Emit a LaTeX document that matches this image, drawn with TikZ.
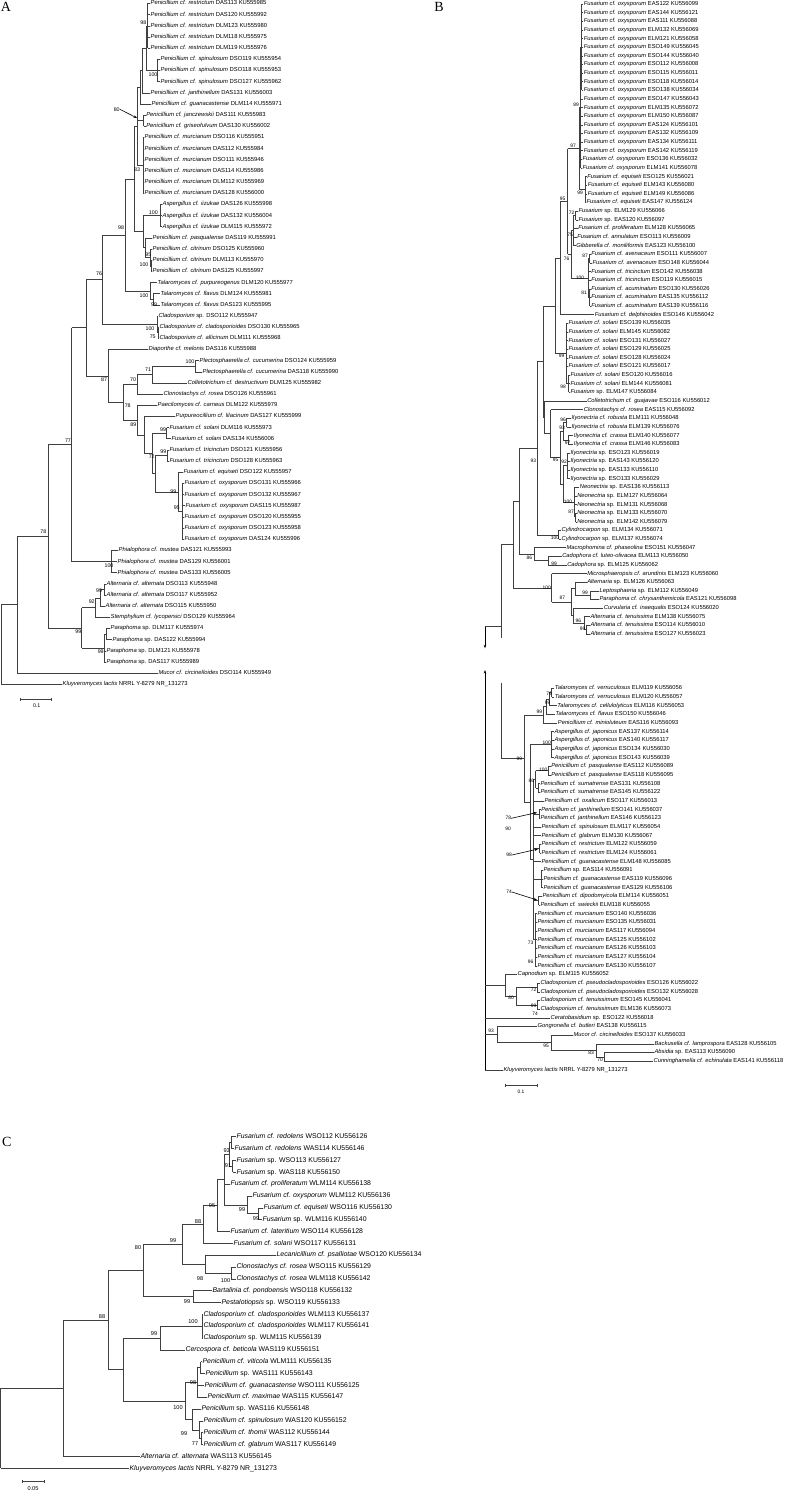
\documentclass[tikz,border=0pt]{standalone}
\usepackage{fontspec}
\setmainfont{Liberation Sans}
\newfontfamily\serifL{Liberation Serif}
\usetikzlibrary{calc,arrows.meta}
\tikzset{
 br/.style={draw=black!75, line width=0.5pt},
 la/.style={anchor=west, inner sep=0.4pt, font=\fontsize{5.85}{6}\selectfont, text height=4pt, text depth=1pt},
 lb/.style={anchor=west, inner sep=0.4pt, font=\fontsize{5.8}{6}\selectfont, text height=4pt, text depth=1pt},
 lc/.style={anchor=west, inner sep=0.4pt, font=\fontsize{6.9}{7}\selectfont, text height=4.8pt, text depth=1.2pt},
 bsa/.style={inner sep=0pt, font=\fontsize{5.3}{5.5}\selectfont},
 bsb/.style={inner sep=0pt, font=\fontsize{4.9}{5}\selectfont},
 bsc/.style={inner sep=0pt, font=\fontsize{5.6}{6}\selectfont},
 letter/.style={inner sep=0pt, font=\serifL\fontsize{14}{14}\selectfont},
 arr/.style={draw=black, line width=0.6pt, -{Stealth[length=3.5pt,width=2.6pt]}},
}
\newcommand\LA[4]{\node[la] (a#1) at (#2,{-3.5-11.16*#1}) {\textit{#3} #4};}
\newcommand\LB[4]{\node[lb] (b#1) at (#2,{-4-8.63*#1}) {\textit{#3} #4};}
\newcommand\LL[4]{\node[lb] (b#1) at (#2,{-688.3-8.67*(#1-74)}) {\textit{#3} #4};}
\newcommand\LC[4]{\node[lc] (c#1) at (#2,{-1136.7-11.84*#1}) {\textit{#3} #4};}
\newcommand\nd[5]{%
 \path let \p1=(#3), \p2=(#4) in coordinate (#1) at (#2,{0.5*(\y1+\y2)});
 \draw[br] (#1|-#3) -- (#1|-#4);
 \foreach \ch in {#5} {\draw[br] (#1|-\ch) -- (\ch);}
}
\newcommand\bl[5]{\node[#1] (#2) at (#3,-#4) {#5};}
\begin{document}
\begin{tikzpicture}[x=1pt,y=1pt]
\useasboundingbox (0,0) rectangle (785,-1493);
\fill[white] (0,0) rectangle (785,-1493);
% ================= panel letters
\node[letter] (pA) at (6,-6.7) {A};
\node[letter] (pB) at (439,-7.3) {B};
\node[letter] (pC) at (6.7,-1141.7) {C};
% ================= PANEL A leaves
\LA{0}{150}{Penicillium cf. restrictum}{DAS113 KU555985}
\LA{1}{150}{Penicillium cf. restrictum}{DAS120 KU555992}
\LA{2}{150}{Penicillium cf. restrictum}{DLM123 KU555980}
\LA{3}{150}{Penicillium cf. restrictum}{DLM118 KU555975}
\LA{4}{150}{Penicillium cf. restrictum}{DLM119 KU555976}
\LA{5}{160}{Penicillium cf. spinulosum}{DSO119 KU555954}
\LA{6}{160}{Penicillium cf. spinulosum}{DSO118 KU555953}
\LA{7}{160}{Penicillium cf. spinulosum}{DSO127 KU555962}
\LA{8}{150}{Penicillium cf. janthinellum}{DAS131 KU556003}
\LA{9}{151}{Penicillium cf. guanacastense}{DLM114 KU555971}
\LA{10}{145.7}{Penicillium cf. janczewskii}{DAS111 KU555983}
\LA{11}{145.7}{Penicillium cf. griseofulvum}{DAS130 KU556002}
\LA{12}{144}{Penicillium cf. murcianum}{DSO116 KU555951}
\LA{13}{144}{Penicillium cf. murcianum}{DAS112 KU555984}
\LA{14}{144}{Penicillium cf. murcianum}{DSO111 KU555946}
\LA{15}{144}{Penicillium cf. murcianum}{DAS114 KU555986}
\LA{16}{144}{Penicillium cf. murcianum}{DLM112 KU555969}
\LA{17}{144}{Penicillium cf. murcianum}{DAS128 KU556000}
\LA{18}{162}{Aspergillus cf. iizukae}{DAS126 KU555998}
\LA{19}{162}{Aspergillus cf. iizukae}{DAS132 KU556004}
\LA{20}{162}{Aspergillus cf. iizukae}{DLM115 KU555972}
\LA{21}{152}{Penicillium cf. pasqualense}{DAS119 KU555991}
\LA{22}{152}{Penicillium cf. citrinum}{DSO125 KU555960}
\LA{23}{152}{Penicillium cf. citrinum}{DLM113 KU555970}
\LA{24}{152}{Penicillium cf. citrinum}{DAS125 KU555997}
\LA{25}{157}{Talaromyces cf. purpureogenus}{DLM120 KU555977}
\LA{26}{160}{Talaromyces cf. flavus}{DLM124 KU555981}
\LA{27}{160}{Talaromyces cf. flavus}{DAS123 KU555995}
\LA{28}{158}{Cladosporium}{sp. DSO112 KU555947}
\LA{29}{159}{Cladosporium cf. cladosporioides}{DSO130 KU555965}
\LA{30}{159}{Cladosporium cf. allicinum}{DLM111 KU555968}
\LA{31}{148}{Diaporthe cf. melonis}{DAS116 KU555988}
\LA{32}{199}{Plectosphaerella cf. cucumerina}{DSO124 KU555959}
\LA{33}{202}{Plectosphaerella cf. cucumerina}{DAS118 KU555990}
\LA{34}{187}{Colletotrichum cf. destructivum}{DLM125 KU555982}
\LA{35}{163}{Clonostachys cf. rosea}{DSO126 KU555961}
\LA{36}{157}{Paecilomyces cf. carneus}{DLM122 KU555979}
\LA{37}{175}{Purpureocillium cf. lilacinum}{DAS127 KU555999}
\LA{38}{169}{Fusarium cf. solani}{DLM116 KU555973}
\LA{39}{171}{Fusarium cf. solani}{DAS134 KU556006}
\LA{40}{169}{Fusarium cf. tricinctum}{DSO121 KU555956}
\LA{41}{169}{Fusarium cf. tricinctum}{DSO128 KU555963}
\LA{42}{183}{Fusarium cf. equiseti}{DSO122 KU555957}
\LA{43}{184}{Fusarium cf. oxysporum}{DSO131 KU555966}
\LA{44}{184}{Fusarium cf. oxysporum}{DSO132 KU555967}
\LA{45}{185}{Fusarium cf. oxysporum}{DAS115 KU555987}
\LA{46}{184}{Fusarium cf. oxysporum}{DSO120 KU555955}
\LA{47}{184}{Fusarium cf. oxysporum}{DSO123 KU555958}
\LA{48}{184}{Fusarium cf. oxysporum}{DAS124 KU555996}
\LA{49}{118}{Phialophora cf. mustea}{DAS121 KU555993}
\LA{50}{117}{Phialophora cf. mustea}{DAS129 KU556001}
\LA{51}{117}{Phialophora cf. mustea}{DAS133 KU556005}
\LA{52}{106}{Alternaria cf. alternata}{DSO113 KU555948}
\LA{53}{106}{Alternaria cf. alternata}{DSO117 KU555952}
\LA{54}{105}{Alternaria cf. alternata}{DSO115 KU555950}
\LA{55}{110}{Stemphylium cf. lycopersici}{DSO129 KU555964}
\LA{56}{110}{Paraphoma}{sp. DLM117 KU555974}
\LA{57}{112}{Paraphoma}{sp. DAS122 KU555994}
\LA{58}{106}{Paraphoma}{sp. DLM121 KU555978}
\LA{59}{106}{Paraphoma}{sp. DAS117 KU555989}
\LA{60}{158}{Mucor cf. circinelloides}{DSO114 KU555949}
\LA{61}{62}{Kluyveromyces lactis}{NRRL Y-8279 NR\_131273}
% ---- PANEL A tree
\nd{nRestr}{147.7}{a0}{a4}{a0,a1,a2,a3,a4}
\nd{nSpin}{157.7}{a5}{a7}{a5,a6,a7}
\nd{nRS}{146}{nRestr}{nSpin}{nRestr,nSpin}
\nd{nP1}{142}{nRS}{a8}{nRS,a8}
\nd{nP2}{140}{nP1}{a9}{nP1,a9}
\nd{nJG}{143.5}{a10}{a11}{a10,a11}
\nd{nMur}{143}{a12}{a17}{a12,a13,a14,a15,a16,a17}
\nd{nP3}{137}{nP2}{nMur}{nP2,nJG,nMur}
\nd{nAsp}{160.7}{a18}{a20}{a18,a19,a20}
\nd{nCit1}{151}{a23}{a24}{a23,a24}
\nd{nCit}{150}{a22}{nCit1}{a22,nCit1}
\nd{nPC}{145}{a21}{nCit}{a21,nCit}
\nd{nAPC}{143.3}{nAsp}{nPC}{nAsp,nPC}
\nd{nPen}{134}{nP3}{nAPC}{nP3,nAPC}
\nd{nFlav}{153}{a26}{a27}{a26,a27}
\nd{nTal}{150}{a25}{nFlav}{a25,nFlav}
\nd{nAn98}{125}{nPen}{nTal}{nPen,nTal}
\nd{nCl2}{158.3}{a29}{a30}{a29,a30}
\nd{nClado}{157}{a28}{nCl2}{a28,nCl2}
\nd{nAn76}{102}{nAn98}{nClado}{nAn98,nClado}
\nd{nPlec}{195}{a32}{a33}{a32,a33}
\nd{nAn71}{152}{nPlec}{a34}{nPlec,a34}
\nd{nAn70}{137}{nAn71}{a35}{nAn71,a35}
\nd{nFsol}{166.7}{a38}{a39}{a38,a39}
\nd{nFtri}{167}{a40}{a41}{a40,a41}
\nd{nFox}{182}{a43}{a48}{a43,a44,a45,a46,a47,a48}
\nd{nEqOx}{178}{a42}{nFox}{a42,nFox}
\nd{nTF}{155}{nFtri}{nEqOx}{nFtri,nEqOx}
\nd{nAn72}{152}{nFsol}{nTF}{nFsol,nTF}
\nd{nAn89}{144}{a37}{nAn72}{a37,nAn72}
\nd{nPae}{137}{a36}{nAn89}{a36,nAn89}
\nd{nAn78}{123.3}{nAn70}{nPae}{nAn70,nPae}
\nd{nAn87}{108}{a31}{nAn78}{a31,nAn78}
\nd{nAn86}{86}{nAn76}{nAn87}{nAn76,nAn87}
\nd{nPhia}{111.7}{a49}{a51}{a49,a50,a51}
\nd{nAn77}{71.7}{nAn86}{nPhia}{nAn86,nPhia}
\nd{nAlt1}{104}{a52}{a53}{a52,a53}
\nd{nAn92}{100}{nAlt1}{a54}{nAlt1,a54}
\nd{nAlt}{95}{nAn92}{a55}{nAn92,a55}
\nd{nPp}{106.7}{a56}{a57}{a56,a57}
\nd{nPara}{104.3}{nPp}{a59}{nPp,a58,a59}
\nd{nDothA}{81.7}{nAlt}{nPara}{nAlt,nPara}
\nd{nAn77b}{48.3}{nAn77}{nDothA}{nAn77,nDothA}
\nd{nMucA}{17.3}{nAn77b}{a60}{nAn77b,a60}
\nd{rootA}{1}{nMucA}{a61}{nMucA,a61}
% ---- PANEL A bootstrap labels
\bl{bsa}{la1}{143.3}{22.7}{98}
\bl{bsa}{la2}{153}{75}{100}
\bl{bsa}{la3}{116.7}{109.3}{80}
\coordinate (arA) at (137,-118);
\draw[arr] (la3.east) -- (arA);
\bl{bsa}{la4}{137}{170}{83}
\bl{bsa}{la5}{153.3}{212.3}{100}
\bl{bsa}{la6}{121}{228}{98}
\bl{bsa}{la7}{148.3}{254.3}{95}
\bl{bsa}{la8}{144}{265}{100}
\bl{bsa}{la9}{99}{274}{76}
\bl{bsa}{la10}{144}{296}{100}
\bl{bsa}{la11}{154}{304.3}{99}
\bl{bsa}{la12}{150}{329}{100}
\bl{bsa}{la13}{152.7}{337}{75}
\bl{bsa}{la14}{104}{380}{87}
\bl{bsa}{la15}{133}{380}{70}
\bl{bsa}{la16}{148}{370}{71}
\bl{bsa}{la17}{190}{362}{100}
\bl{bsa}{la18}{127.7}{406}{78}
\bl{bsa}{la19}{133.3}{424.3}{89}
\bl{bsa}{la20}{163}{429.3}{99}
\bl{bsa}{la21}{163.3}{451.7}{99}
\bl{bsa}{la22}{151.7}{456.7}{72}
\bl{bsa}{la23}{173.3}{491.7}{99}
\bl{bsa}{la24}{176.7}{507.3}{95}
\bl{bsa}{la25}{68}{441}{77}
\bl{bsa}{la26}{43.3}{531.7}{78}
\bl{bsa}{la27}{109}{565.7}{100}
\bl{bsa}{la28}{99}{590.7}{99}
\bl{bsa}{la29}{91.7}{601.7}{92}
\bl{bsa}{la30}{78.3}{631.7}{99}
\bl{bsa}{la31}{100.7}{651.7}{99}
% scale A
\coordinate (sbA1) at (20.7,-699.3);
\coordinate (sbA2) at (51.7,-699.3);
\draw[br] (sbA1) -- (sbA2);
\draw[br] ([yshift=1.5pt]sbA1) -- ([yshift=-1.5pt]sbA1);
\draw[br] ([yshift=1.5pt]sbA2) -- ([yshift=-1.5pt]sbA2);
\node[bsa] (sA) at (36.7,-705.5) {0.1};
% ================= PANEL B leaves (upper)
\LB{0}{583.3}{Fusarium cf. oxysporum}{EAS122 KU556099}
\LB{1}{583.3}{Fusarium cf. oxysporum}{EAS144 KU556121}
\LB{2}{583.3}{Fusarium cf. oxysporum}{EAS111 KU556088}
\LB{3}{583.3}{Fusarium cf. oxysporum}{ELM132 KU556069}
\LB{4}{583.3}{Fusarium cf. oxysporum}{ELM121 KU556058}
\LB{5}{583.3}{Fusarium cf. oxysporum}{ESO149 KU556045}
\LB{6}{583.3}{Fusarium cf. oxysporum}{ESO144 KU556040}
\LB{7}{583.3}{Fusarium cf. oxysporum}{ESO112 KU556008}
\LB{8}{583.3}{Fusarium cf. oxysporum}{ESO115 KU556011}
\LB{9}{583.3}{Fusarium cf. oxysporum}{ESO118 KU556014}
\LB{10}{583.3}{Fusarium cf. oxysporum}{ESO138 KU556034}
\LB{11}{583.3}{Fusarium cf. oxysporum}{ESO147 KU556043}
\LB{12}{583.3}{Fusarium cf. oxysporum}{ELM135 KU556072}
\LB{13}{583.3}{Fusarium cf. oxysporum}{ELM150 KU556087}
\LB{14}{583.3}{Fusarium cf. oxysporum}{EAS124 KU556101}
\LB{15}{583.3}{Fusarium cf. oxysporum}{EAS132 KU556109}
\LB{16}{583.3}{Fusarium cf. oxysporum}{EAS134 KU556111}
\LB{17}{583.3}{Fusarium cf. oxysporum}{EAS142 KU556119}
\LB{18}{582}{Fusarium cf. oxysporum}{ESO136 KU556032}
\LB{19}{582}{Fusarium cf. oxysporum}{ELM141 KU556078}
\LB{20}{586.7}{Fusarium cf. equiseti}{ESO125 KU556021}
\LB{21}{587.3}{Fusarium cf. equiseti}{ELM143 KU556080}
\LB{22}{587.3}{Fusarium cf. equiseti}{ELM149 KU556086}
\LB{23}{586}{Fusarium cf. equiseti}{EAS147 KU556124}
\LB{24}{578}{Fusarium}{sp. ELM129 KU556066}
\LB{25}{578}{Fusarium}{sp. EAS120 KU556097}
\LB{26}{577.7}{Fusarium cf. proliferatum}{ELM128 KU556065}
\LB{27}{576.7}{Fusarium cf. annulatum}{ESO113 KU556009}
\LB{28}{575.7}{Gibberella cf. moniliformis}{EAS123 KU556100}
\LB{29}{590.7}{Fusarium cf. avenaceum}{ESO111 KU556007}
\LB{30}{592}{Fusarium cf. avenaceum}{ESO148 KU556044}
\LB{31}{590.7}{Fusarium cf. tricinctum}{ESO142 KU556038}
\LB{32}{590.7}{Fusarium cf. tricinctum}{ESO119 KU556015}
\LB{33}{590.7}{Fusarium cf. acuminatum}{ESO130 KU556026}
\LB{34}{590.7}{Fusarium cf. acuminatum}{EAS135 KU556112}
\LB{35}{590.7}{Fusarium cf. acuminatum}{EAS139 KU556116}
\LB{36}{594.3}{Fusarium cf. delphinoides}{ESO146 KU556042}
\LB{37}{568}{Fusarium cf. solani}{ESO139 KU556035}
\LB{38}{568}{Fusarium cf. solani}{ELM145 KU556082}
\LB{39}{568}{Fusarium cf. solani}{ESO131 KU556027}
\LB{40}{568}{Fusarium cf. solani}{ESO129 KU556025}
\LB{41}{568}{Fusarium cf. solani}{ESO128 KU556024}
\LB{42}{568}{Fusarium cf. solani}{ESO121 KU556017}
\LB{43}{570}{Fusarium cf. solani}{ESO120 KU556016}
\LB{44}{570}{Fusarium cf. solani}{ELM144 KU556081}
\LB{45}{570}{Fusarium}{sp. ELM147 KU556084}
\LB{46}{586.7}{Colletotrichum cf. guajavae}{ESO116 KU556012}
\LB{47}{583.3}{Clonostachys cf. rosea}{EAS115 KU556092}
\LB{48}{571}{Ilyonectria cf. robusta}{ELM111 KU556048}
\LB{49}{571}{Ilyonectria cf. robusta}{ELM139 KU556076}
\LB{50}{573.3}{Ilyonectria cf. crassa}{ELM140 KU556077}
\LB{51}{573.3}{Ilyonectria cf. crassa}{ELM146 KU556083}
\LB{52}{570}{Ilyonectria}{sp. ESO123 KU556019}
\LB{53}{570}{Ilyonectria}{sp. EAS143 KU556120}
\LB{54}{570}{Ilyonectria}{sp. EAS133 KU556110}
\LB{55}{570}{Ilyonectria}{sp. ESO133 KU556029}
\LB{56}{579.3}{Neonectria}{sp. EAS136 KU556113}
\LB{57}{576.7}{Neonectria}{sp. ELM127 KU556064}
\LB{58}{576.7}{Neonectria}{sp. ELM131 KU556068}
\LB{59}{576.7}{Neonectria}{sp. ELM133 KU556070}
\LB{60}{576.7}{Neonectria}{sp. ELM142 KU556079}
\LB{61}{561}{Cylindrocarpon}{sp. ELM134 KU556071}
\LB{62}{561}{Cylindrocarpon}{sp. ELM137 KU556074}
\LB{63}{566}{Macrophomina cf. phaseolina}{ESO151 KU556047}
\LB{64}{561.7}{Cadophora cf. luteo-olivacea}{ELM113 KU556050}
\LB{65}{566.7}{Cadophora}{sp. ELM125 KU556062}
\LB{66}{586.7}{Microsphaeropsis cf. arundinis}{ELM123 KU556060}
\LB{67}{586.7}{Alternaria}{sp. ELM126 KU556063}
\LB{68}{599}{Leptosphaeria}{sp. ELM112 KU556049}
\LB{69}{599}{Paraphoma cf. chrysanthemicola}{EAS121 KU556098}
\LB{70}{603.3}{Curvularia cf. inaequalis}{ESO124 KU556020}
\LB{71}{590}{Alternaria cf. tenuissima}{ELM138 KU556075}
\LB{72}{590}{Alternaria cf. tenuissima}{ESO114 KU556010}
\LB{73}{590}{Alternaria cf. tenuissima}{ESO127 KU556023}
% ---- PANEL B upper tree
\nd{nOx1}{581.7}{b0}{b10}{b0,b1,b2,b3,b4,b5,b6,b7,b8,b9,b10}
\nd{nB89}{580.7}{nOx1}{b19}{nOx1,b11,b12,b13,b14,b15,b16,b17,b18,b19}
\nd{nEqui}{585}{b20}{b23}{b20,b21,b22,b23}
\nd{nB97}{579.3}{nB89}{nEqui}{nB89,nEqui}
\nd{nB72}{575.7}{b24}{b25}{b24,b25}
\nd{nB75}{573.5}{nB72}{b28}{nB72,b26,b27,b28}
\nd{nB87a}{589.5}{b29}{b30}{b29,b30}
\nd{nB81}{589.5}{b33}{b35}{b33,b34,b35}
\nd{nB100f}{588.3}{nB87a}{nB81}{nB87a,b31,b32,nB81}
\nd{nB76}{571}{nB75}{nB100f}{nB75,nB100f}
\nd{nB95}{567.7}{nB97}{nB76}{nB97,nB76}
\nd{nBD}{560.7}{nB95}{b36}{nB95,b36}
\nd{nB98s}{568.7}{b43}{b45}{b43,b44,b45}
\nd{nBsol}{566.5}{b37}{nB98s}{b37,b38,b39,b40,b41,b42,nB98s}
\nd{nBF}{555}{nBD}{nBsol}{nBD,nBsol}
\nd{nB96i}{566.7}{b48}{b49}{b48,b49}
\nd{nB97c}{568}{b50}{b51}{b50,b51}
\nd{nB93i}{563}{nB96i}{nB97c}{nB96i,nB97c}
\nd{nB92i}{567}{b52}{b55}{b52,b53,b54,b55}
\nd{nB87n}{575.7}{b59}{b60}{b59,b60}
\nd{nB100n}{574.7}{b56}{nB87n}{b56,b57,b58,nB87n}
\nd{nBX}{563}{nB92i}{nB100n}{nB92i,nB100n}
\nd{nB95i}{560}{nB93i}{nBX}{nB93i,nBX}
\nd{nBclon}{550.7}{b47}{nB95i}{b47,nB95i}
\nd{nBcol}{544}{b46}{nBclon}{b46,nBclon}
\nd{nBc}{543.3}{nBF}{nBcol}{nBF,nBcol}
\nd{nB100cy}{558.7}{b61}{b62}{b61,b62}
\nd{nB93b}{537.3}{nBc}{nB100cy}{nBc,nB100cy}
\nd{nB99cad}{548}{b64}{b65}{b64,b65}
\nd{nB86}{534}{b63}{nB99cad}{b63,nB99cad}
\nd{nBe}{519.3}{nB93b}{nB86}{nB93b,nB86}
\nd{nB99lp}{590}{b68}{b69}{b68,b69}
\nd{nBa1}{575}{b67}{nB99lp}{b67,nB99lp}
\nd{nB99t}{586}{b72}{b73}{b72,b73}
\nd{nB96t}{584}{b71}{nB99t}{b71,nB99t}
\nd{nBcur}{573}{b70}{nB96t}{b70,nB96t}
\nd{nB87d}{571}{nBa1}{nBcur}{nBa1,nBcur}
\nd{nB100d}{551.7}{b66}{nB87d}{b66,nB87d}
\nd{nBf}{513.3}{nBe}{nB100d}{nBe,nB100d}
\coordinate (nBup) at (501,-626.7);
\coordinate (stubU) at (501,-638.3);
\draw[br] (nBup|-nBf) -- (stubU);
\draw[br] (nBup|-nBf) -- (nBf);
\coordinate (arU1) at (485,-626.7);
\coordinate (arU2) at (485,-648.3);
\draw[br] (nBup) -- (arU1);
\draw[arr] (arU1) -- (arU2);
% ---- PANEL B upper labels
\bl{bsb}{lb1}{576}{105}{89}
\bl{bsb}{lb2}{580}{193}{99}
\bl{bsb}{lb3}{573}{146}{97}
\bl{bsb}{lb4}{571.7}{212.3}{72}
\bl{bsb}{lb5}{570}{235}{75}
\bl{bsb}{lb6}{585}{255.7}{87}
\bl{bsb}{lb7}{584}{292.7}{81}
\bl{bsb}{lb8}{580}{277.7}{100}
\bl{bsb}{lb9}{566.7}{259.3}{76}
\bl{bsb}{lb10}{562.7}{199.3}{95}
\bl{bsb}{lb11}{563}{387}{98}
\bl{bsb}{lb12}{561.7}{356}{99}
\bl{bsb}{lb13}{563}{420}{96}
\bl{bsb}{lb14}{562}{428.3}{93}
\bl{bsb}{lb15}{567.7}{443.3}{97}
\bl{bsb}{lb16}{564}{462.3}{92}
\bl{bsb}{lb17}{555.7}{460}{95}
\bl{bsb}{lb18}{568}{501.7}{100}
\bl{bsb}{lb19}{571}{512.3}{87}
\bl{bsb}{lb20}{555}{538.3}{100}
\bl{bsb}{lb21}{533.3}{461}{93}
\bl{bsb}{lb22}{529.3}{558.3}{86}
\bl{bsb}{lb23}{554}{564.3}{99}
\bl{bsb}{lb24}{546.7}{587.7}{100}
\bl{bsb}{lb25}{562.3}{597.7}{87}
\bl{bsb}{lb26}{585}{592.7}{99}
\bl{bsb}{lb27}{578.3}{620.7}{96}
\bl{bsb}{lb28}{582.7}{629.3}{99}
% ================= PANEL B leaves (lower)
\LL{74}{554.3}{Talaromyces cf. verruculosus}{ELM119 KU556056}
\LL{75}{554.3}{Talaromyces cf. verruculosus}{ELM120 KU556057}
\LL{76}{556.7}{Talaromyces cf. cellulolyticus}{ELM116 KU556053}
\LL{77}{555}{Talaromyces cf. flavus}{ESO150 KU556046}
\LL{78}{557.3}{Penicillium cf. minioluteum}{EAS116 KU556093}
\LL{79}{554}{Aspergillus cf. japonicus}{EAS137 KU556114}
\LL{80}{554}{Aspergillus cf. japonicus}{EAS140 KU556117}
\LL{81}{554}{Aspergillus cf. japonicus}{ESO134 KU556030}
\LL{82}{554}{Aspergillus cf. japonicus}{ESO143 KU556039}
\LL{83}{550.7}{Penicillium cf. pasqualense}{EAS112 KU556089}
\LL{84}{550.7}{Penicillium cf. pasqualense}{EAS118 KU556095}
\LL{85}{540}{Penicillium cf. sumatrense}{EAS131 KU556108}
\LL{86}{540}{Penicillium cf. sumatrense}{EAS145 KU556122}
\LL{87}{544}{Penicillium cf. oxalicum}{ESO117 KU556013}
\LL{88}{540.7}{Penicillium cf. janthinellum}{ESO141 KU556037}
\LL{89}{540}{Penicillium cf. janthinellum}{EAS146 KU556123}
\LL{90}{541}{Penicillium cf. spinulosum}{ELM117 KU556054}
\LL{91}{541}{Penicillium cf. glabrum}{ELM130 KU556067}
\LL{92}{541}{Penicillium cf. restrictum}{ELM122 KU556059}
\LL{93}{541}{Penicillium cf. restrictum}{ELM124 KU556061}
\LL{94}{541}{Penicillium cf. guanacastense}{ELM148 KU556085}
\LL{95}{543}{Penicillium}{sp. EAS114 KU556091}
\LL{96}{543}{Penicillium cf. guanacastense}{EAS119 KU556096}
\LL{97}{543}{Penicillium cf. guanacastense}{EAS129 KU556106}
\LL{98}{542}{Penicillium cf. dipodomyicola}{ELM114 KU556051}
\LL{99}{540}{Penicillium cf. swieckii}{ELM118 KU556055}
\LL{100}{537}{Penicillium cf. murcianum}{ESO140 KU556036}
\LL{101}{537}{Penicillium cf. murcianum}{ESO135 KU556031}
\LL{102}{537}{Penicillium cf. murcianum}{EAS117 KU556094}
\LL{103}{537}{Penicillium cf. murcianum}{EAS125 KU556102}
\LL{104}{537}{Penicillium cf. murcianum}{EAS126 KU556103}
\LL{105}{537}{Penicillium cf. murcianum}{EAS127 KU556104}
\LL{106}{537}{Penicillium cf. murcianum}{EAS130 KU556107}
\LL{107}{517}{Capnodium}{sp. ELM115 KU556052}
\LL{108}{540}{Cladosporium cf. pseudocladosporioides}{ESO126 KU556022}
\LL{109}{540}{Cladosporium cf. pseudocladosporioides}{ESO132 KU556028}
\LL{110}{540}{Cladosporium cf. tenuissimum}{ESO145 KU556041}
\LL{111}{540}{Cladosporium cf. tenuissimum}{ELM136 KU556073}
\LL{112}{550}{Ceratobasidium}{sp. ESO122 KU556018}
\LL{113}{537}{Gongronella cf. butleri}{EAS138 KU556115}
\LL{114}{573}{Mucor cf. circinelloides}{ESO137 KU556033}
\LL{115}{654}{Backusella cf. lamprospora}{EAS128 KU556105}
\LL{116}{654}{Absidia}{sp. EAS113 KU556090}
\LL{117}{653}{Cunninghamella cf. echinulata}{EAS141 KU556118}
\LL{118}{503}{Kluyveromyces lactis}{NRRL Y-8279 NR\_131273}
% ---- PANEL B lower tree
\nd{nT79}{551.7}{b74}{b75}{b74,b75}
\nd{nT99a}{549}{nT79}{b76}{nT79,b76}
\nd{nT99b}{546}{nT99a}{b77}{nT99a,b77}
\nd{nTP}{543.3}{nT99b}{b78}{nT99b,b78}
\nd{nAJ}{551}{b79}{b82}{b79,b80,b81,b82}
\nd{nPq}{548}{b83}{b84}{b83,b84}
\nd{nSm}{538}{b85}{b86}{b85,b86}
\nd{nBl86}{535.5}{nPq}{nSm}{nPq,nSm}
\nd{nJan}{539}{b88}{b89}{b88,b89}
\nd{nRes}{539.5}{b92}{b93}{b92,b93}
\nd{nGua}{541.5}{b95}{b97}{b95,b96,b97}
\nd{nDip}{538.5}{b98}{b99}{b98,b99}
\nd{nMurB}{535}{b100}{b106}{b100,b101,b102,b103,b104,b105,b106}
\nd{nPB}{533}{nBl86}{nMurB}{nBl86,b87,nJan,b90,b91,nRes,b94,nGua,nDip,nMurB}
\nd{nAP}{530}{nAJ}{nPB}{nAJ,nPB}
\nd{nBl99}{524}{nTP}{nAP}{nTP,nAP}
\coordinate (stubL) at (501,-682.7);
\draw[br] (stubL) -- (stubL|-nBl99) -- (nBl99);
\nd{nCl72}{537}{b108}{b109}{b108,b109}
\nd{nCl99}{537}{b110}{b111}{b110,b111}
\nd{nCl80}{516}{nCl72}{nCl99}{nCl72,nCl99}
\nd{nCap}{505}{b107}{nCl80}{b107,nCl80}
\nd{nM70}{604}{b116}{b117}{b116,b117}
\nd{nM83}{596}{b115}{nM70}{b115,nM70}
\nd{nM95}{551}{b114}{nM83}{b114,nM83}
\nd{nM93}{497}{b113}{nM95}{b113,nM95}
\coordinate (arL1) at (485,-670);
\draw[arr] (arL1|-b118) -- (arL1);
\foreach \ch in {nCap,b112,nM93,b118} {\draw[br] (arL1|-\ch) -- (\ch);}
% ---- PANEL B lower labels
\bl{bsb}{lb30}{549}{694}{79}
\bl{bsb}{lb31}{547.7}{702.7}{99}
\bl{bsb}{lb32}{539.3}{711.7}{99}
\bl{bsb}{lb33}{546.7}{743.3}{100}
\bl{bsb}{lb34}{519.3}{759.3}{99}
\bl{bsb}{lb35}{543.3}{770}{100}
\bl{bsb}{lb36}{531.3}{781}{86}
\bl{bsb}{lb37}{508.3}{818.3}{78}
\coordinate (arB1) at (537,-812.5);
\draw[arr] (lb37.east) -- (arB1);
\bl{bsb}{lb49}{508}{829}{90}
\bl{bsb}{lb38}{509}{855}{98}
\coordinate (arB2) at (538,-849);
\draw[arr] (lb38.east) -- (arB2);
\bl{bsb}{lb39}{509}{892}{74}
\coordinate (arB3) at (537,-900);
\draw[arr] (lb39.east) -- (arB3);
\bl{bsb}{lb40}{530.5}{943}{73}
\bl{bsb}{lb41}{533.5}{990}{72}
\bl{bsb}{lb42}{533.5}{1006}{99}
\bl{bsb}{lb50}{535}{1014}{74}
\bl{bsb}{lb43}{511}{998}{80}
\bl{bsb}{lb44}{530.5}{962}{96}
\bl{bsb}{lb45}{491}{1031}{93}
\bl{bsb}{lb46}{546}{1046}{95}
\bl{bsb}{lb47}{600}{1060}{70}
\bl{bsb}{lb48}{591}{1053}{83}
% scale B
\coordinate (sbB1) at (505,-1085);
\coordinate (sbB2) at (537,-1085);
\draw[br] (sbB1) -- (sbB2);
\draw[br] ([yshift=1.5pt]sbB1) -- ([yshift=-1.5pt]sbB1);
\draw[br] ([yshift=1.5pt]sbB2) -- ([yshift=-1.5pt]sbB2);
\node[bsb] (sB) at (521,-1092) {0.1};
% ================= PANEL C leaves
\LC{0}{236}{Fusarium cf. redolens}{WSO112 KU556126}
\LC{1}{234}{Fusarium cf. redolens}{WAS114 KU556146}
\LC{2}{236}{Fusarium}{sp. WSO113 KU556127}
\LC{3}{236}{Fusarium}{sp. WAS118 KU556150}
\LC{4}{230}{Fusarium cf. proliferatum}{WLM114 KU556138}
\LC{5}{252}{Fusarium cf. oxysporum}{WLM112 KU556136}
\LC{6}{263}{Fusarium cf. equiseti}{WSO116 KU556130}
\LC{7}{262}{Fusarium}{sp. WLM116 KU556140}
\LC{8}{230}{Fusarium cf. lateritium}{WSO114 KU556128}
\LC{9}{233}{Fusarium cf. solani}{WSO117 KU556131}
\LC{10}{276}{Lecanicillium cf. psalliotae}{WSO120 KU556134}
\LC{11}{236}{Clonostachys cf. rosea}{WSO115 KU556129}
\LC{12}{236}{Clonostachys cf. rosea}{WLM118 KU556142}
\LC{13}{212}{Bartalinia cf. pondoensis}{WSO118 KU556132}
\LC{14}{221}{Pestalotiopsis}{sp. WSO119 KU556133}
\LC{15}{203}{Cladosporium cf. cladosporioides}{WLM113 KU556137}
\LC{16}{203}{Cladosporium cf. cladosporioides}{WLM117 KU556141}
\LC{17}{203}{Cladosporium}{sp. WLM115 KU556139}
\LC{18}{185}{Cercospora cf. beticola}{WAS119 KU556151}
\LC{19}{202}{Penicillium cf. viticola}{WLM111 KU556135}
\LC{20}{205}{Penicillium}{sp. WAS111 KU556143}
\LC{21}{204}{Penicillium cf. guanacastense}{WSO111 KU556125}
\LC{22}{207}{Penicillium cf. maximae}{WAS115 KU556147}
\LC{23}{201}{Penicillium}{sp. WAS116 KU556148}
\LC{24}{203}{Penicillium cf. spinulosum}{WAS120 KU556152}
\LC{25}{203}{Penicillium cf. thomii}{WAS112 KU556144}
\LC{26}{203}{Penicillium cf. glabrum}{WAS117 KU556149}
\LC{27}{140}{Alternaria cf. alternata}{WAS113 KU556145}
\LC{28}{129}{Kluyveromyces lactis}{NRRL Y-8279 NR\_131273}
% ---- PANEL C tree
\nd{nC93}{231}{c0}{c1}{c0,c1}
\nd{nC91}{232.5}{c2}{c3}{c2,c3}
\nd{nCfa}{229}{nC93}{nC91}{nC93,nC91}
\nd{nC99e}{258.5}{c6}{c7}{c6,c7}
\nd{nCoxy}{247}{c5}{nC99e}{c5,nC99e}
\nd{nC224}{224}{nCfa}{nCoxy}{nCfa,c4,nCoxy}
\nd{nC95}{217}{nC224}{c8}{nC224,c8}
\nd{nC88c}{203}{nC95}{c9}{nC95,c9}
\nd{nC100cl}{231}{c11}{c12}{c11,c12}
\nd{nCclon}{205}{c10}{nC100cl}{c10,nC100cl}
\nd{nC99a}{182}{nC88c}{nCclon}{nC88c,nCclon}
\nd{nC99b}{193.3}{c13}{c14}{c13,c14}
\nd{nC80}{143.3}{nC99a}{nC99b}{nC99a,nC99b}
\nd{nC100c}{202}{c15}{c17}{c15,c16,c17}
\nd{nC99d}{160}{nC100c}{c18}{nC100c,c18}
\nd{nCvw}{200.5}{c19}{c20}{c19,c20}
\nd{nC98p}{197}{nCvw}{c22}{nCvw,c21,c22}
\nd{nC77p}{201}{c25}{c26}{c25,c26}
\nd{nC99p}{199}{c24}{nC77p}{c24,nC77p}
\nd{nCpen2}{192}{c23}{nC99p}{c23,nC99p}
\nd{nC100p}{185}{nC98p}{nCpen2}{nC98p,nCpen2}
\nd{nClow}{123.3}{nC99d}{nC100p}{nC99d,nC100p}
\nd{nC88b}{108.3}{nC80}{nClow}{nC80,nClow}
\nd{nC88a}{63.3}{nC88b}{c27}{nC88b,c27}
\nd{rootC}{0.6}{nC88a}{c28}{nC88a,c28}
% ---- PANEL C labels
\bl{bsc}{lc1}{226.7}{1151}{93}
\bl{bsc}{lc2}{228}{1166}{91}
\bl{bsc}{lc3}{256}{1219}{99}
\bl{bsc}{lc4}{242}{1210}{99}
\bl{bsc}{lc5}{212}{1205.7}{95}
\bl{bsc}{lc6}{198}{1222}{88}
\bl{bsc}{lc7}{225.5}{1281}{100}
\bl{bsc}{lc8}{200}{1279}{98}
\bl{bsc}{lc9}{173}{1241}{99}
\bl{bsc}{lc10}{187}{1302}{99}
\bl{bsc}{lc11}{138}{1247.7}{80}
\bl{bsc}{lc12}{193}{1321.7}{100}
\bl{bsc}{lc13}{154}{1334}{99}
\bl{bsc}{lc14}{193}{1382.7}{98}
\bl{bsc}{lc15}{195}{1444}{77}
\bl{bsc}{lc16}{184}{1434}{99}
\bl{bsc}{lc17}{178}{1408}{100}
\bl{bsc}{lc18}{102}{1316.7}{88}
% scale C
\coordinate (sbC1) at (22,-1481);
\coordinate (sbC2) at (44,-1481);
\draw[br] (sbC1) -- (sbC2);
\draw[br] ([yshift=1.5pt]sbC1) -- ([yshift=-1.5pt]sbC1);
\draw[br] ([yshift=1.5pt]sbC2) -- ([yshift=-1.5pt]sbC2);
\node[bsc] (sC) at (33,-1489) {0.05};
\end{tikzpicture}
\end{document}
